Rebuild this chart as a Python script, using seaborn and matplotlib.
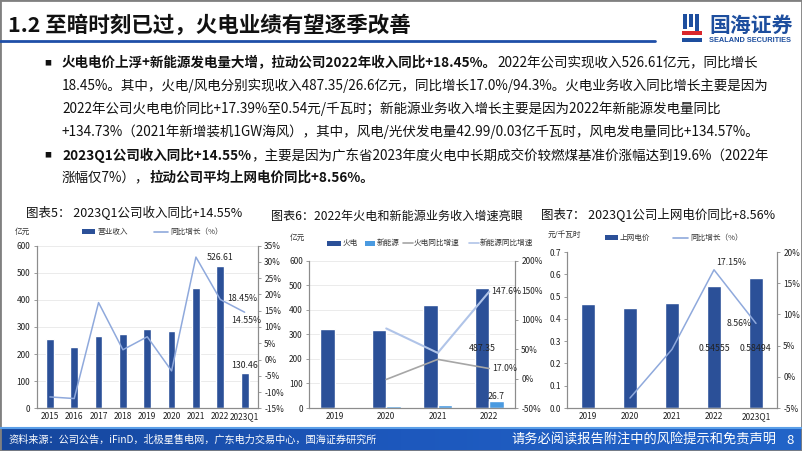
import numpy as np
import pandas as pd
import matplotlib
matplotlib.use("Agg")
import matplotlib.pyplot as plt
import seaborn as sns
from matplotlib.patches import Rectangle
from matplotlib.lines import Line2D
from matplotlib.colors import LinearSegmentedColormap

sns.set_style("white")
plt.rcParams['font.family'] = ['Noto Sans CJK SC', 'DejaVu Sans']

W, H = 802, 451

# ---------------- data ----------------
rev_years = ['2015', '2016', '2017', '2018', '2019', '2020', '2021', '2022', '2023Q1']
rev_values = [257, 227, 267, 275, 294, 284, 444, 526.61, 130.46]
rev_growth = [-11.5, -12.0, 17.5, 3.0, 7.0, -3.5, 31.5, 18.45, 14.55]

seg_years = ['2019', '2020', '2021', '2022']
thermal_rev = [322, 316, 418, 487.35]
newenergy_rev = [4, 7.5, 10.8, 26.7]
thermal_growth = [np.nan, -1.5, 32.5, 17.0]
newenergy_growth = [np.nan, 85.0, 43.5, 147.6]

price_years = ['2019', '2020', '2021', '2022', '2023Q1']
price_values = [0.466, 0.450, 0.469, 0.54555, 0.58494]
price_growth = [np.nan, -3.4, 4.4, 17.15, 8.56]

BAR = '#2b5098'
LIGHT = '#4a9ae0'
LINE1 = '#8fa9dc'
GRAY_LINE = '#a6a6a6'
LINE_NE = '#b0c4e8'
SPINE = '#8c8c8c'
TXT = '#222222'

fig = plt.figure(figsize=(W / 100, H / 100), dpi=100)
fig.patch.set_facecolor('white')


def rect(l, t, r, b):
    return [l / W, 1 - b / H, (r - l) / W, (b - t) / H]


def fx(x):
    return x / W


def fy(y):
    return 1 - y / H


# ---------------- header ----------------
fig.text(fx(8), fy(25), '1.2 至暗时刻已过，火电业绩有望逐季改善', fontsize=15.5,
         fontweight='bold', va='center', ha='left', color='#111111')
fig.add_artist(Line2D([0, fx(655)], [fy(40.5), fy(40.5)], transform=fig.transFigure,
                      color='#1f4fa8', lw=2))
# logo
fig.add_artist(Rectangle((fx(683), fy(29)), 3.5 / W, 15 / H, transform=fig.transFigure,
                         color='#1d4e9e', lw=0))
fig.add_artist(Rectangle((fx(689), fy(27)), 3.5 / W, 13 / H, transform=fig.transFigure,
                         color='#1d4e9e', lw=0))
fig.add_artist(Rectangle((fx(695), fy(31)), 3.5 / W, 17 / H, transform=fig.transFigure,
                         color='#1d4e9e', lw=0))
fig.add_artist(Rectangle((fx(682), fy(35)), 20 / W, 3.5 / H, transform=fig.transFigure,
                         color='#d9262c', lw=0))
fig.add_artist(Rectangle((fx(682), fy(42)), 20 / W, 3.5 / H, transform=fig.transFigure,
                         color='#1d4e9e', lw=0))
fig.text(fx(709), fy(25), '国海证券', fontsize=15, fontweight='bold', color='#1d4e9e',
         va='center', ha='left')
fig.text(fx(709), fy(40), 'SEALAND SECURITIES', fontsize=5.3, fontweight='bold',
         color='#1d4e9e', va='center', ha='left', family=['Liberation Sans', 'DejaVu Sans'])

# ---------------- body text ----------------
renderer = fig.canvas.get_renderer()


def draw_segments(x, y, segments, fs=10):
    for text, bold in segments:
        t = fig.text(fx(x), fy(y), text, fontsize=fs, fontweight='bold' if bold else 'normal',
                     va='center', ha='left', color='#111111')
        bb = t.get_window_extent(renderer)
        x = bb.x1


lines = [
    (63, True, [('火电电价上浮+新能源发电量大增，拉动公司2022年收入同比+18.45%。', True),
                ('2022年公司实现收入526.61亿元，同比增长', False)]),
    (86, False, [('18.45%。其中，火电/风电分别实现收入487.35/26.6亿元，同比增长17.0%/94.3%。火电业务收入同比增长主要是因为', False)]),
    (109, False, [('2022年公司火电电价同比+17.39%至0.54元/千瓦时；新能源业务收入增长主要是因为2022年新能源发电量同比', False)]),
    (132, False, [('+134.73%（2021年新增装机1GW海风），其中，风电/光伏发电量42.99/0.03亿千瓦时，风电发电量同比+134.57%。', False)]),
    (155, True, [('2023Q1公司收入同比+14.55%', True),
                 ('，主要是因为广东省2023年度火电中长期成交价较燃煤基准价涨幅达到19.6%（2022年', False)]),
    (178, False, [('涨幅仅7%），', False), ('拉动公司平均上网电价同比+8.56%。', True)]),
]
for y, bullet, segs in lines:
    if bullet:
        fig.text(fx(44), fy(y), '■', fontsize=5, va='center', ha='left', color='#111111')
    draw_segments(62, y, segs, fs=9.75)


# ---------------- helpers for charts ----------------
def style_axes(ax, axr, xlim):
    ax.set_xlim(*xlim)
    for a in (ax, axr):
        a.spines['top'].set_visible(False)
        for s in ('left', 'right', 'bottom'):
            a.spines[s].set_color(SPINE)
            a.spines[s].set_linewidth(0.8)
        a.set_xlabel('')
        a.set_ylabel('')
    ax.tick_params(axis='y', labelsize=6, length=2.5, width=0.6, color=SPINE, pad=2,
                   labelcolor=TXT, left=True)
    axr.tick_params(axis='y', labelsize=6, length=2.5, width=0.6, color=SPINE, pad=2,
                    labelcolor=TXT, right=True)
    ax.tick_params(axis='x', labelsize=6, length=0, pad=3, labelcolor=TXT)
    n = int(round(xlim[1] - xlim[0]))
    ax.set_xticks(np.arange(n + 1) - 0.5 + (xlim[0] + 0.5), minor=True)
    ax.tick_params(axis='x', which='minor', length=2.5, width=0.6, color=SPINE)
    ax.yaxis.grid(True, color='#e8e8e8', lw=0.6)
    ax.set_axisbelow(True)
    ax.patch.set_alpha(0)


def legend_patch(x0, x1, y, color):
    fig.add_artist(Rectangle((fx(x0), fy(y + 2.5)), (x1 - x0) / W, 5 / H,
                             transform=fig.transFigure, color=color, lw=0))


def legend_line(x0, x1, y, color):
    fig.add_artist(Line2D([fx(x0), fx(x1)], [fy(y), fy(y)], transform=fig.transFigure,
                          color=color, lw=1.2))


def legend_text(x, y, s, fs=5.5):
    fig.text(fx(x), fy(y), s, fontsize=fs, va='center', ha='left', color='#333333')


pct = matplotlib.ticker.FuncFormatter(lambda v, p: f'{v:.0f}%')

# ---------------- chart 1 ----------------
fig.text(fx(134), fy(213), '图表5： 2023Q1公司收入同比+14.55%', fontsize=9, ha='center',
         va='center', color='#111111')
ax1 = fig.add_axes(rect(36.5, 245.7, 258, 408.3))
sns.barplot(x=rev_years, y=rev_values, color=BAR, width=0.32, saturation=1, ax=ax1)
ax1.set_ylim(0, 600)
ax1.set_yticks(np.arange(0, 601, 100))
ax1b = ax1.twinx()
sns.lineplot(x=np.arange(len(rev_years)), y=rev_growth, color=LINE1, lw=1.1, ax=ax1b)
ax1b.set_ylim(-15, 35)
ax1b.set_yticks(np.arange(-15, 36, 5))
ax1b.yaxis.set_major_formatter(pct)
style_axes(ax1, ax1b, (-0.55, 8.55))
ax1.text(7, rev_values[7] + 12, '526.61', ha='center', va='bottom', fontsize=6.3, color=TXT)
ax1.text(8, rev_values[8] + 10, '130.46', ha='center', va='bottom', fontsize=6.3, color=TXT)
ax1b.text(7.3, rev_growth[7] + 0.3, '18.45%', ha='left', va='center', fontsize=6.3, color=TXT)
ax1b.text(8.05, rev_growth[8] - 1.3, '14.55%', ha='center', va='top', fontsize=6.3, color=TXT)
legend_text(15, 232, '亿元')
legend_patch(82, 95, 232, BAR)
legend_text(97, 232, '营业收入')
legend_line(154, 168, 232, LINE1)
legend_text(170, 232, '同比增长（%）')

# ---------------- chart 2 ----------------
fig.text(fx(397), fy(216), '图表6：2022年火电和新能源业务收入增速亮眼', fontsize=8.7,
         ha='center', va='center', color='#111111')
ax2 = fig.add_axes(rect(309, 260.7, 515, 408))
df2 = pd.DataFrame({'year': seg_years * 2,
                    'rev': thermal_rev + newenergy_rev,
                    'seg': ['火电'] * 4 + ['新能源'] * 4})
sns.barplot(data=df2, x='year', y='rev', hue='seg', palette=[BAR, LIGHT], width=0.56,
            saturation=1, ax=ax2, legend=False)
ax2.set_ylim(0, 600)
ax2.set_yticks(np.arange(0, 601, 100))
ax2b = ax2.twinx()
dl = pd.DataFrame({'x': np.arange(4), 'th': thermal_growth, 'ne': newenergy_growth})
sns.lineplot(data=dl.dropna(), x='x', y='th', color=GRAY_LINE, lw=1.2, ax=ax2b)
sns.lineplot(data=dl.dropna(), x='x', y='ne', color=LINE_NE, lw=1.5, ax=ax2b)
ax2b.set_ylim(-50, 200)
ax2b.set_yticks(np.arange(-50, 201, 50))
ax2b.yaxis.set_major_formatter(pct)
style_axes(ax2, ax2b, (-0.5, 3.5))
ax2b.text(3.03, newenergy_growth[3], '147.6%', ha='left', va='center', fontsize=6.3, color=TXT)
ax2b.text(3.05, thermal_growth[3], '17.0%', ha='left', va='center', fontsize=6.3, color=TXT)
ax2.text(3 - 0.14, thermal_rev[3] / 2, '487.35', ha='center', va='center', fontsize=6.3, color=TXT)
ax2.text(3 + 0.14, newenergy_rev[3] + 2, '26.7', ha='center', va='bottom', fontsize=6.3, color=TXT)
legend_text(290, 238, '亿元')
legend_patch(327, 341, 243, BAR)
legend_text(343, 243, '火电')
legend_patch(365, 375, 243, LIGHT)
legend_text(377, 243, '新能源')
legend_line(403, 413, 243, GRAY_LINE)
legend_text(414, 243, '火电同比增速')
legend_line(469, 479, 243, LINE_NE)
legend_text(480, 243, '新能源同比增速')

# ---------------- chart 3 ----------------
fig.text(fx(658), fy(215), '图表7： 2023Q1公司上网电价同比+8.56%', fontsize=9,
         ha='center', va='center', color='#111111')
ax3 = fig.add_axes(rect(567, 252, 777, 408))
sns.barplot(x=price_years, y=price_values, color=BAR, width=0.32, saturation=1, ax=ax3)
ax3.set_ylim(0, 0.7)
ax3.set_yticks(np.arange(0, 0.71, 0.1))
ax3.yaxis.set_major_formatter(matplotlib.ticker.FormatStrFormatter('%.1f'))
ax3b = ax3.twinx()
d3 = pd.DataFrame({'x': np.arange(5), 'g': price_growth}).dropna()
sns.lineplot(data=d3, x='x', y='g', color=LINE1, lw=1.1, ax=ax3b)
ax3b.set_ylim(-5, 20)
ax3b.set_yticks(np.arange(-5, 21, 5))
ax3b.yaxis.set_major_formatter(pct)
style_axes(ax3, ax3b, (-0.5, 4.5))
ax3.yaxis.grid(False)
ax3b.text(3.05, price_growth[3] + 0.4, '17.15%', ha='left', va='bottom', fontsize=6.3, color=TXT)
ax3b.text(3.9, price_growth[4], '8.56%', ha='right', va='center', fontsize=6.3, color=TXT)
LABEL_Y = 0.265
ax3.text(3, LABEL_Y, f'{price_values[3]:.5f}', ha='center', va='center', fontsize=6.3, color=TXT)
ax3.text(4, LABEL_Y, f'{price_values[4]:.5f}', ha='center', va='center', fontsize=6.3, color=TXT)
legend_text(548, 235, '元/千瓦时')
legend_patch(605, 618, 238, BAR)
legend_text(620, 238, '上网电价')
legend_line(673, 688, 238, LINE1)
legend_text(690, 238, '同比增长（%）')

# ---------------- footer ----------------
axf = fig.add_axes(rect(0, 428, 802, 451))
cmap = LinearSegmentedColormap.from_list('f', ['#15469c', '#1d58bd', '#2264c8'])
axf.imshow(np.linspace(0, 1, 256)[None, :], aspect='auto', cmap=cmap, extent=(0, 1, 0, 1))
axf.set_axis_off()
fig.add_artist(Line2D([0, 1], [fy(427.5), fy(427.5)], transform=fig.transFigure,
                      color='#5b9fe8', lw=1.5))
fig.text(fx(8), fy(440), '资料来源：公司公告，iFinD，北极星售电网，广东电力交易中心，国海证券研究所',
         fontsize=7.3, color='white', va='center', ha='left')
fig.text(fx(511), fy(440), '请务必阅读报告附注中的风险提示和免责声明', fontsize=9.5,
         color='white', va='center', ha='left')
fig.text(fx(790), fy(440), '8', fontsize=9.5, color='white', va='center', ha='center')

fig.add_artist(Rectangle((0, 0), 1, 1, transform=fig.transFigure, fill=False,
                         ec='#808080', lw=2))

fig.savefig('out.png', dpi=100)
